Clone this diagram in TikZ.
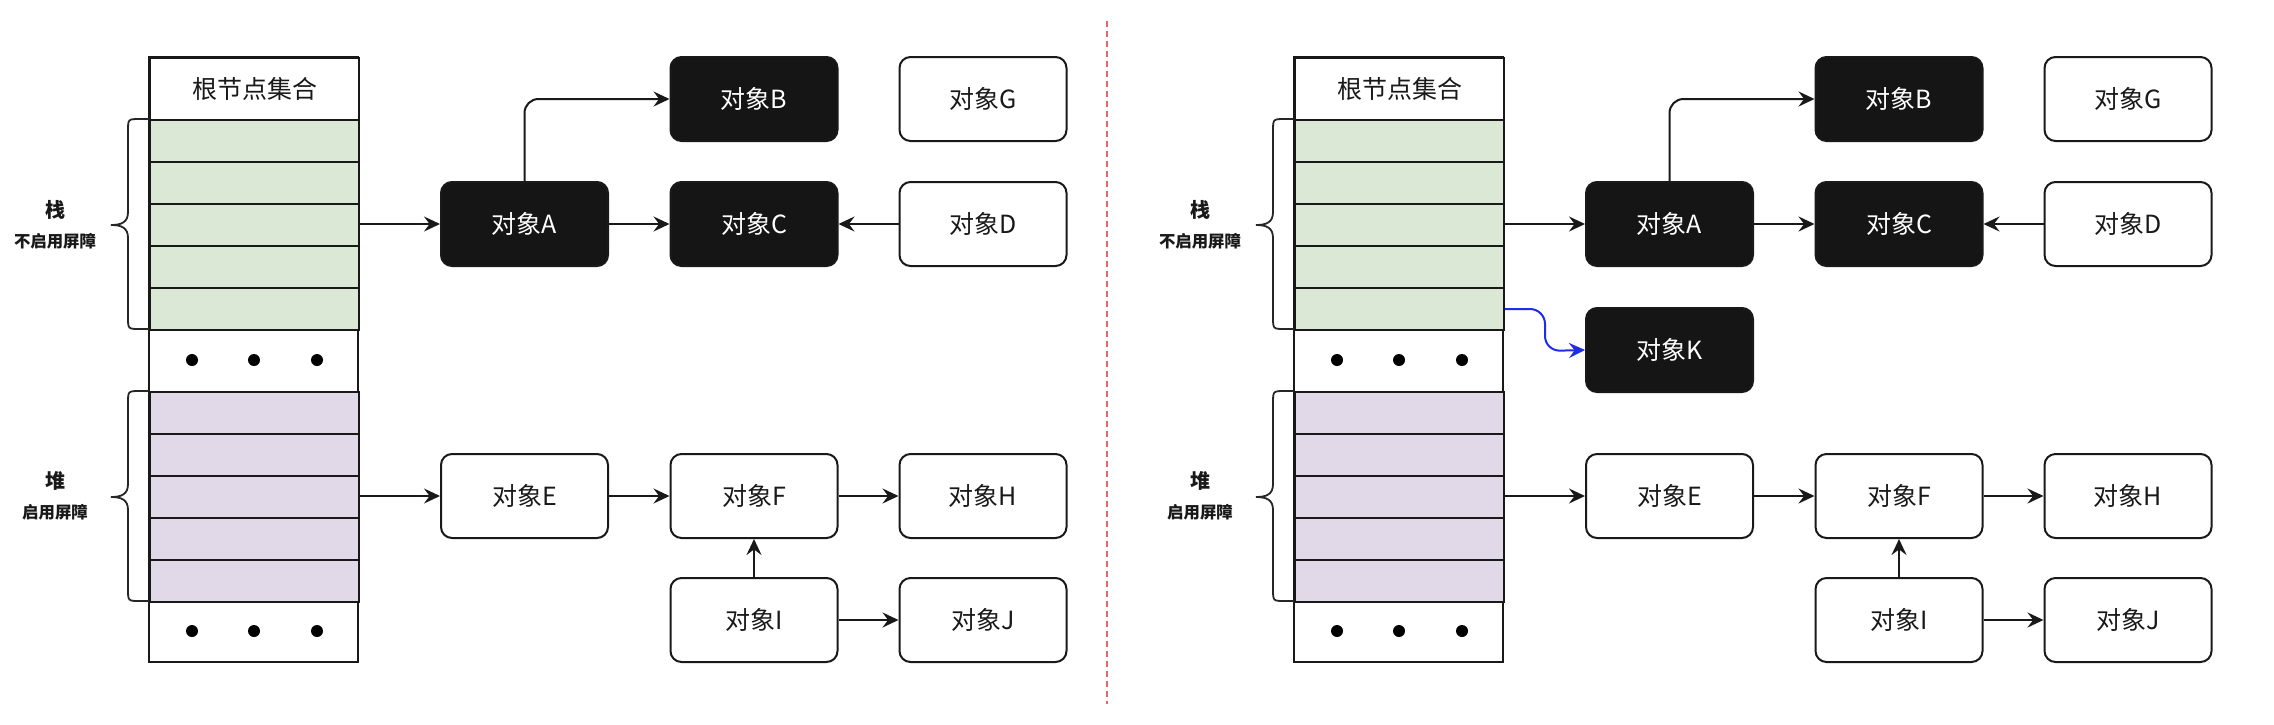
\documentclass[tikz,border=0pt]{standalone}
\usepackage{fontspec}
\setmainfont{Noto Sans CJK SC}
\usetikzlibrary{arrows.meta}
\definecolor{stackgreen}{HTML}{DAE8D5}
\definecolor{heappurple}{HTML}{E1D8E8}
\definecolor{darkbox}{HTML}{151515}
\definecolor{sepred}{HTML}{E06868}
\definecolor{newblue}{RGB}{30,45,230}
\tikzset{
  objbox/.style={draw=black!90, line width=1pt, rounded corners=5.5pt,
    minimum width=83.5pt, minimum height=42pt, inner sep=0pt,
    font=\fontsize{12.5pt}{14pt}\selectfont},
  objwhite/.style={objbox, fill=white, text=black!90},
  objblack/.style={objbox, fill=darkbox, text=white},
  tablecell/.style={draw=black!90, line width=1pt, minimum width=104.5pt,
    inner sep=0pt, anchor=north west},
  stackrow/.style={tablecell, fill=stackgreen, minimum height=21pt},
  heaprow/.style={tablecell, fill=heappurple, minimum height=21pt},
  hdrcell/.style={tablecell, fill=white, minimum height=31pt,
    font=\fontsize{12.5pt}{14pt}\selectfont, text=black!90},
  conn/.style={draw=black!90, line width=1pt,
    -{Stealth[length=8pt,width=7.5pt,inset=2.8pt]}},
  bluelink/.style={conn, draw=newblue, rounded corners=7.5pt,
    -{Stealth[length=8pt,width=7.5pt,inset=2.8pt,fill=newblue]}},
  bracestyle/.style={draw=black!85, line width=0.9pt},
  biglabel/.style={font=\fontsize{10pt}{12pt}\selectfont\bfseries, text=black!90},
  smalllabel/.style={font=\fontsize{8.2pt}{10pt}\selectfont\bfseries, text=black!90},
  dotmark/.style={circle, fill=black, inner sep=0pt, minimum size=6pt}
}
\newcommand{\gcpanel}[2]{%
\begin{scope}[shift={(#2,0)}]
  % table
  \draw[line width=1pt, draw=black!90, fill=white] (149,57) rectangle (358,662);
  \node[hdrcell] (#1hdr) at (149,57) {根节点集合};
  \foreach \i in {1,...,5} {
    \node[stackrow] (#1s\i) at (149,{119+42*(\i-1)}) {};
    \node[heaprow] (#1h\i) at (149,{391+42*(\i-1)}) {};
  }
  \foreach \dx in {192,254,317} {
    \node[dotmark] (#1da\dx) at (\dx,360) {};
    \node[dotmark] (#1db\dx) at (\dx,631) {};
  }
  % braces
  \draw[bracestyle] (149,119) -- (140,119) .. controls (128,119) .. (128,131)
     -- (128,212) .. controls (128,222) and (122,225) .. (111,225)
     .. controls (122,225) and (128,228) .. (128,238)
     -- (128,317) .. controls (128,329) .. (140,329) -- (149,329);
  \draw[bracestyle] (149,391) -- (140,391) .. controls (128,391) .. (128,403)
     -- (128,484) .. controls (128,494) and (122,497) .. (111,497)
     .. controls (122,497) and (128,500) .. (128,510)
     -- (128,589) .. controls (128,601) .. (140,601) -- (149,601);
  \node[biglabel] (#1stk) at (55,210) {栈};
  \node[smalllabel] (#1stkn) at (55,241) {不启用屏障};
  \node[biglabel] (#1hp) at (55,481) {堆};
  \node[smalllabel] (#1hpn) at (55,512) {启用屏障};
  % objects
  \node[objblack] (#1A) at (524.5,224) {对象A};
  \node[objblack] (#1B) at (754,99) {对象B};
  \node[objblack] (#1C) at (754,224) {对象C};
  \node[objwhite] (#1G) at (983,99) {对象G};
  \node[objwhite] (#1D) at (983,224) {对象D};
  \node[objwhite] (#1E) at (524.5,496) {对象E};
  \node[objwhite] (#1F) at (754,496) {对象F};
  \node[objwhite] (#1H) at (983,496) {对象H};
  \node[objwhite] (#1I) at (754,620) {对象I};
  \node[objwhite] (#1J) at (983,620) {对象J};
  % connectors
  \draw[conn] (#1A.west -| #1s3.east) -- (#1A.west);
  \draw[conn] (#1A.east) -- (#1C.west);
  \draw[conn, rounded corners=7pt] (#1A.north) |- (#1B.west);
  \draw[conn] (#1D.west) -- (#1C.east);
  \draw[conn] (#1E.west -| #1h3.east) -- (#1E.west);
  \draw[conn] (#1E.east) -- (#1F.west);
  \draw[conn] (#1F.east) -- (#1H.west);
  \draw[conn] (#1I.north) -- (#1F.south);
  \draw[conn] (#1I.east) -- (#1J.west);
\end{scope}}
\begin{document}
\begin{tikzpicture}[x=0.5pt,y=-0.5pt]
  \useasboundingbox[fill=white] (0,0) rectangle (2274,724);
  \gcpanel{L}{0}
  \gcpanel{R}{1145}
  \node[objblack] (RK) at (1669.5,350) {对象K};
  \coordinate (sepTop) at (1107,21);
  \coordinate (sepBot) at (1107,704);
  \draw[sepred, line width=0.8pt, dash pattern=on 3pt off 2pt] (sepTop) -- (sepBot);
  \draw[bluelink] (Rs5.east) -- ++(40,0) -- ++(0,42) -- (RK.west);
\end{tikzpicture}
\end{document}
